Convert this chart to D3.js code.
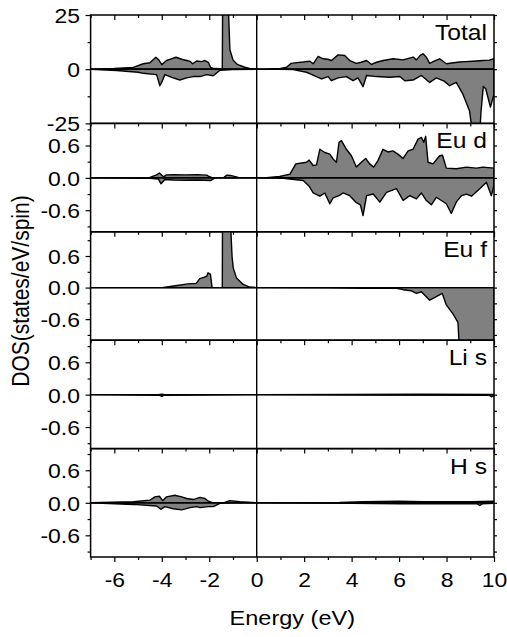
<!DOCTYPE html>
<html>
<head>
<meta charset="utf-8">
<script src="https://cdn.jsdelivr.net/npm/d3@7"></script>
<style>
  body { margin: 0; background: #fff; }
  text { font-family: "Liberation Sans", Arial, sans-serif; fill: #000; }
</style>
</head>
<body>
<div id="chart"></div>
<script>
// Data: [energy (eV), DOS]
var totalUp = [[-7,0],[-6,0.3],[-5.2,0.8],[-4.78,2.5],[-4.5,3],[-4.25,5.5],[-4.12,4.2],[-4.0,2.1],[-3.8,4],[-3.6,4.8],[-3.4,5.5],[-3.16,4.6],[-2.95,4],[-2.8,3.6],[-2.7,2.5],[-2.53,3.8],[-2.32,3.5],[-2.18,4],[-2.04,3.2],[-1.94,0.8],[-1.8,0.3],[-1.5,0.2],[-1.45,0.5],[-1.42,60],[-1.3,60],[-1.2,30],[-1.13,9],[-1.0,4.3],[-0.85,2.5],[-0.7,1.7],[-0.5,0.9],[-0.3,0.4],[0,0.05],[0.5,0.1],[1.0,0.4],[1.26,0.9],[1.45,2.7],[1.6,2.9],[1.96,3.3],[2.24,3.7],[2.38,2.5],[2.59,5.9],[2.8,4.8],[3.0,4.6],[3.15,4.0],[3.43,6.6],[3.71,6.3],[3.92,4],[4.2,2.7],[4.4,3.2],[4.63,4],[4.84,2.2],[5.05,3.2],[5.33,4],[5.75,4.8],[6.17,4.3],[6.59,5.6],[6.73,4.3],[6.9,6.5],[7.01,7.1],[7.15,5.5],[7.29,2.7],[7.5,3.8],[7.71,4.8],[7.99,2.5],[8.3,3.0],[8.55,3.3],[8.8,3.5],[9.11,3.7],[9.53,4],[9.8,4.2],[10,4.8]];
var totalDn = [[-7,0],[-5.9,-0.6],[-5,-1.4],[-4.78,-1.9],[-4.22,-2.5],[-4.08,-7.6],[-4.0,-6],[-3.87,-2.5],[-3.58,-3.8],[-3.24,-5],[-2.95,-4],[-2.68,-3.4],[-2.39,-3.4],[-2.11,-2.5],[-1.83,-3],[-1.55,-0.5],[-1.0,-0.2],[0,0],[1.0,-0.05],[1.54,-0.2],[2.1,-1.4],[2.52,-3.4],[2.73,-4.5],[3.01,-3.4],[3.15,-5.3],[3.43,-4.0],[3.78,-3.4],[4.06,-5.3],[4.27,-4],[4.48,-8.1],[4.63,-2.9],[5.05,-3.4],[5.6,-3.7],[6.03,-3.4],[6.24,-5.3],[6.59,-5],[6.94,-2.9],[7.29,-6.1],[7.57,-4],[7.9,-5.5],[8.13,-7.6],[8.41,-6.1],[8.69,-11.5],[8.97,-19.3],[9.1,-30],[9.4,-30],[9.45,-20],[9.55,-8],[9.65,-9],[9.85,-17.5],[10,-11.5]];

var euDUp = [[-7,0],[-4.5,0.01],[-4.22,0.055],[-4.1,0.09],[-3.93,0.02],[-3.8,0.055],[-3.5,0.06],[-3.0,0.055],[-2.5,0.06],[-2.1,0.05],[-2.04,0.03],[-1.85,0],[-1.4,0],[-1.27,0.05],[-1.1,0.045],[-0.7,0],[0,0],[0.4,0.005],[0.97,0.025],[1.4,0.07],[1.65,0.26],[2.1,0.29],[2.21,0.33],[2.38,0.23],[2.52,0.24],[2.66,0.53],[2.87,0.47],[3.08,0.44],[3.22,0.35],[3.36,0.29],[3.47,0.66],[3.57,0.69],[3.78,0.53],[3.99,0.41],[4.2,0.2],[4.41,0.29],[4.59,0.36],[4.76,0.26],[4.93,0.2],[5.11,0.32],[5.32,0.53],[5.53,0.48],[5.74,0.5],[5.95,0.44],[6.17,0.36],[6.38,0.5],[6.59,0.53],[6.8,0.72],[6.94,0.75],[7.04,0.66],[7.12,0.77],[7.22,0.29],[7.43,0.26],[7.71,0.41],[7.83,0.42],[7.99,0.18],[8.41,0.17],[8.84,0.2],[9.26,0.18],[9.53,0.2],[10,0.18]];
var euDDn = [[-7,0],[-4.5,-0.01],[-4.15,-0.02],[-4.03,-0.11],[-3.87,-0.03],[-3.5,-0.04],[-3.0,-0.045],[-2.5,-0.04],[-1.95,-0.05],[-1.75,0],[0,0],[1.12,-0.01],[1.96,-0.05],[2.2,-0.15],[2.38,-0.28],[2.66,-0.34],[2.87,-0.28],[3.08,-0.48],[3.22,-0.37],[3.47,-0.33],[3.64,-0.28],[3.92,-0.33],[4.2,-0.46],[4.37,-0.5],[4.48,-0.7],[4.63,-0.33],[4.91,-0.3],[5.19,-0.45],[5.47,-0.27],[5.89,-0.2],[6.17,-0.42],[6.45,-0.33],[6.73,-0.39],[6.94,-0.28],[7.15,-0.42],[7.36,-0.5],[7.57,-0.36],[7.99,-0.48],[8.2,-0.66],[8.41,-0.45],[8.63,-0.33],[8.84,-0.3],[9.05,-0.34],[9.4,-0.2],[9.68,-0.08],[9.89,-0.33],[10,-0.13]];

var euFUp = [[-7,0],[-4.0,0],[-3.5,0.03],[-2.9,0.07],[-2.55,0.08],[-2.4,0.17],[-2.2,0.2],[-2.1,0.22],[-2.05,0.28],[-1.95,0.25],[-1.88,0],[-1.45,0],[-1.43,3],[-1.09,1.1],[-1.04,0.6],[-0.99,0.375],[-0.85,0.18],[-0.57,0.06],[-0.3,0.01],[0,0],[10,0]];
var euFDn = [[-7,0],[0,0],[3,-0.005],[4.48,-0.015],[5.5,-0.01],[5.89,-0.015],[6.17,-0.04],[6.5,-0.06],[6.73,-0.11],[6.94,-0.08],[7.29,-0.24],[7.57,-0.17],[7.82,-0.11],[7.99,-0.33],[8.27,-0.5],[8.48,-0.66],[8.58,-1.5],[10,-1.5]];

var liSUp = [[-7,0],[-4.1,0.005],[-4.0,0.01],[-3.9,0.005],[0,0],[4,0.005],[7,0.01],[10,0.005]];
var liSDn = [[-7,0],[-4.1,-0.01],[-4.0,-0.03],[-3.9,-0.01],[0,0],[5,-0.005],[9.8,-0.01],[9.9,-0.04],[10,-0.02]];

var hSUp = [[-7,0],[-5.2,0.02],[-4.5,0.05],[-4.29,0.11],[-4.1,0.12],[-3.96,0.04],[-3.8,0.11],[-3.45,0.14],[-3.16,0.11],[-2.95,0.08],[-2.68,0.06],[-2.39,0.1],[-2.18,0.08],[-2.04,0.03],[-1.83,0],[-1.41,0],[-1.13,0.04],[-0.71,0.02],[0,0],[3.5,0.005],[4.5,0.02],[6,0.03],[7,0.02],[8,0.02],[9,0.02],[10,0.03]];
var hSDn = [[-7,0],[-5.2,-0.03],[-4.22,-0.06],[-4.04,-0.12],[-3.87,-0.07],[-3.52,-0.11],[-3.16,-0.13],[-2.81,-0.09],[-2.53,-0.07],[-2.39,-0.09],[-2.04,-0.07],[-1.83,-0.07],[-1.55,-0.01],[-1.0,0],[0,0],[4,-0.01],[6,-0.02],[8,-0.02],[9.3,-0.02],[9.4,-0.05],[9.5,-0.02],[10,-0.01]];

var panelNames = ["Total", "Eu d", "Eu f", "Li s", "H s"];
var energyTicks = [-6, -4, -2, 0, 2, 4, 6, 8, 10];
var energyMinor = [-7, -5, -3, -1, 1, 3, 5, 7, 9];
var totalTicks = [-25, 0, 25];
var totalMinor = [-12.5, 12.5];
var pdosTicks = [-0.6, 0, 0.6];
var pdosMinor = [-0.9, -0.3, 0.3, 0.9];

// Configuring SVG
var svgWidth = 507;
var svgHeight = 637;
var left = 90.6, right = 494, top0 = 15, panelH = 108.4;
var stretch = "scale(1.12,1)";   // the source text is a little wide

var svg = d3.select("#chart")
    .append("svg")
    .attr("width", svgWidth)
    .attr("height", svgHeight);

var x = d3.scaleLinear().domain([-7, 10]).range([left, right]);

var panels = [
    { name: panelNames[0], up: totalUp, dn: totalDn, domain: [-25, 25], ticks: totalTicks, minor: totalMinor, fmt: d => String(d) },
    { name: panelNames[1], up: euDUp, dn: euDDn, domain: [-1, 1.01], ticks: pdosTicks, minor: pdosMinor, fmt: d => d.toFixed(1) },
    { name: panelNames[2], up: euFUp, dn: euFDn, domain: [-1, 1.06], ticks: pdosTicks, minor: pdosMinor, fmt: d => d.toFixed(1) },
    { name: panelNames[3], up: liSUp, dn: liSDn, domain: [-1, 1.01], ticks: pdosTicks, minor: pdosMinor, fmt: d => d.toFixed(1) },
    { name: panelNames[4], up: hSUp, dn: hSDn, domain: [-1, 1], ticks: pdosTicks, minor: pdosMinor, fmt: d => d.toFixed(1) }
];

panels.forEach((p, i) => {
    var pt = top0 + i * panelH;
    var pb = pt + panelH;
    var y = d3.scaleLinear().domain(p.domain).range([pb, pt]);
    var g = svg.append("g");

    // clip to the panel box
    svg.append("clipPath").attr("id", "clip" + i)
        .append("rect")
        .attr("x", left).attr("y", pt)
        .attr("width", right - left).attr("height", panelH);

    var area = d3.area()
        .x(d => x(d[0]))
        .y0(y(0))
        .y1(d => y(d[1]));

    var plot = g.append("g").attr("clip-path", `url(#clip${i})`);
    [p.up, p.dn].forEach(series => {
        plot.append("path")
            .datum(series)
            .attr("d", area)
            .attr("fill", "#808080")
            .attr("stroke", "#000")
            .attr("stroke-width", 1.4)
            .attr("stroke-linejoin", "round");
    });

    // zero lines
    plot.append("line")
        .attr("x1", left).attr("x2", right)
        .attr("y1", y(0)).attr("y2", y(0))
        .attr("stroke", "#000").attr("stroke-width", 1.4);
    plot.append("line")
        .attr("x1", x(0)).attr("x2", x(0))
        .attr("y1", pt).attr("y2", pb)
        .attr("stroke", "#000").attr("stroke-width", 1.4);

    // left axis
    g.append("g")
        .attr("transform", `translate(${left},0)`)
        .call(d3.axisLeft(y).tickValues(p.ticks).tickSize(5).tickPadding(4.5).tickFormat(p.fmt))
        .call(a => a.select(".domain").remove())
        .call(a => a.selectAll("text").style("font-size", "20.5px").attr("dy", "0.36em").attr("transform", stretch));
    g.append("g")
        .attr("transform", `translate(${left},0)`)
        .call(d3.axisLeft(y).tickValues(p.minor).tickSize(3).tickFormat(""))
        .call(a => a.select(".domain").remove());

    // right axis
    g.append("g")
        .attr("transform", `translate(${right},0)`)
        .call(d3.axisRight(y).tickValues(p.ticks.concat(p.minor)).tickSize(3).tickFormat(""))
        .call(a => a.select(".domain").remove());

    // top ticks (inward)
    g.append("g")
        .attr("transform", `translate(0,${pt})`)
        .call(d3.axisTop(x).tickValues(energyTicks).tickSize(-5).tickFormat(""))
        .call(a => a.select(".domain").remove());
    g.append("g")
        .attr("transform", `translate(0,${pt})`)
        .call(d3.axisTop(x).tickValues(energyMinor).tickSize(-3).tickFormat(""))
        .call(a => a.select(".domain").remove());

    g.selectAll(".tick line").attr("stroke-width", 1.2);

    // frame
    g.append("rect")
        .attr("x", left).attr("y", pt)
        .attr("width", right - left).attr("height", panelH)
        .attr("fill", "none").attr("stroke", "#000").attr("stroke-width", 1.5);

    // panel label
    g.append("g")
        .attr("transform", `translate(487,${pt + 25})`)
        .append("text")
        .attr("text-anchor", "end")
        .attr("transform", stretch)
        .style("font-size", "22px")
        .text(p.name);

    if (i === panels.length - 1) {
        var bottom = g.append("g")
            .attr("transform", `translate(0,${pb})`)
            .call(d3.axisBottom(x).tickValues(energyTicks).tickSize(5).tickPadding(10).tickFormat(d => String(d)))
            .call(a => a.select(".domain").remove())
            .call(a => a.selectAll("text").style("font-size", "20.5px").attr("transform", stretch));
        bottom.selectAll(".tick line").attr("stroke-width", 1.2);
        g.append("g")
            .attr("transform", `translate(0,${pb})`)
            .call(d3.axisBottom(x).tickValues(energyMinor).tickSize(3).tickFormat(""))
            .call(a => a.select(".domain").remove())
            .selectAll(".tick line").attr("stroke-width", 1.2);
    }
});

// axis labels
svg.append("g")
    .attr("transform", `translate(${(left + right) / 2}, 625)`)
    .append("text")
    .attr("text-anchor", "middle")
    .attr("transform", stretch)
    .style("font-size", "21px")
    .text("Energy (eV)");

svg.append("text")
    .attr("transform", "translate(29, 291) rotate(-90) scale(1,1.12)")
    .attr("text-anchor", "middle")
    .style("font-size", "21px")
    .text("DOS(states/eV/spin)");
</script>
</body>
</html>
